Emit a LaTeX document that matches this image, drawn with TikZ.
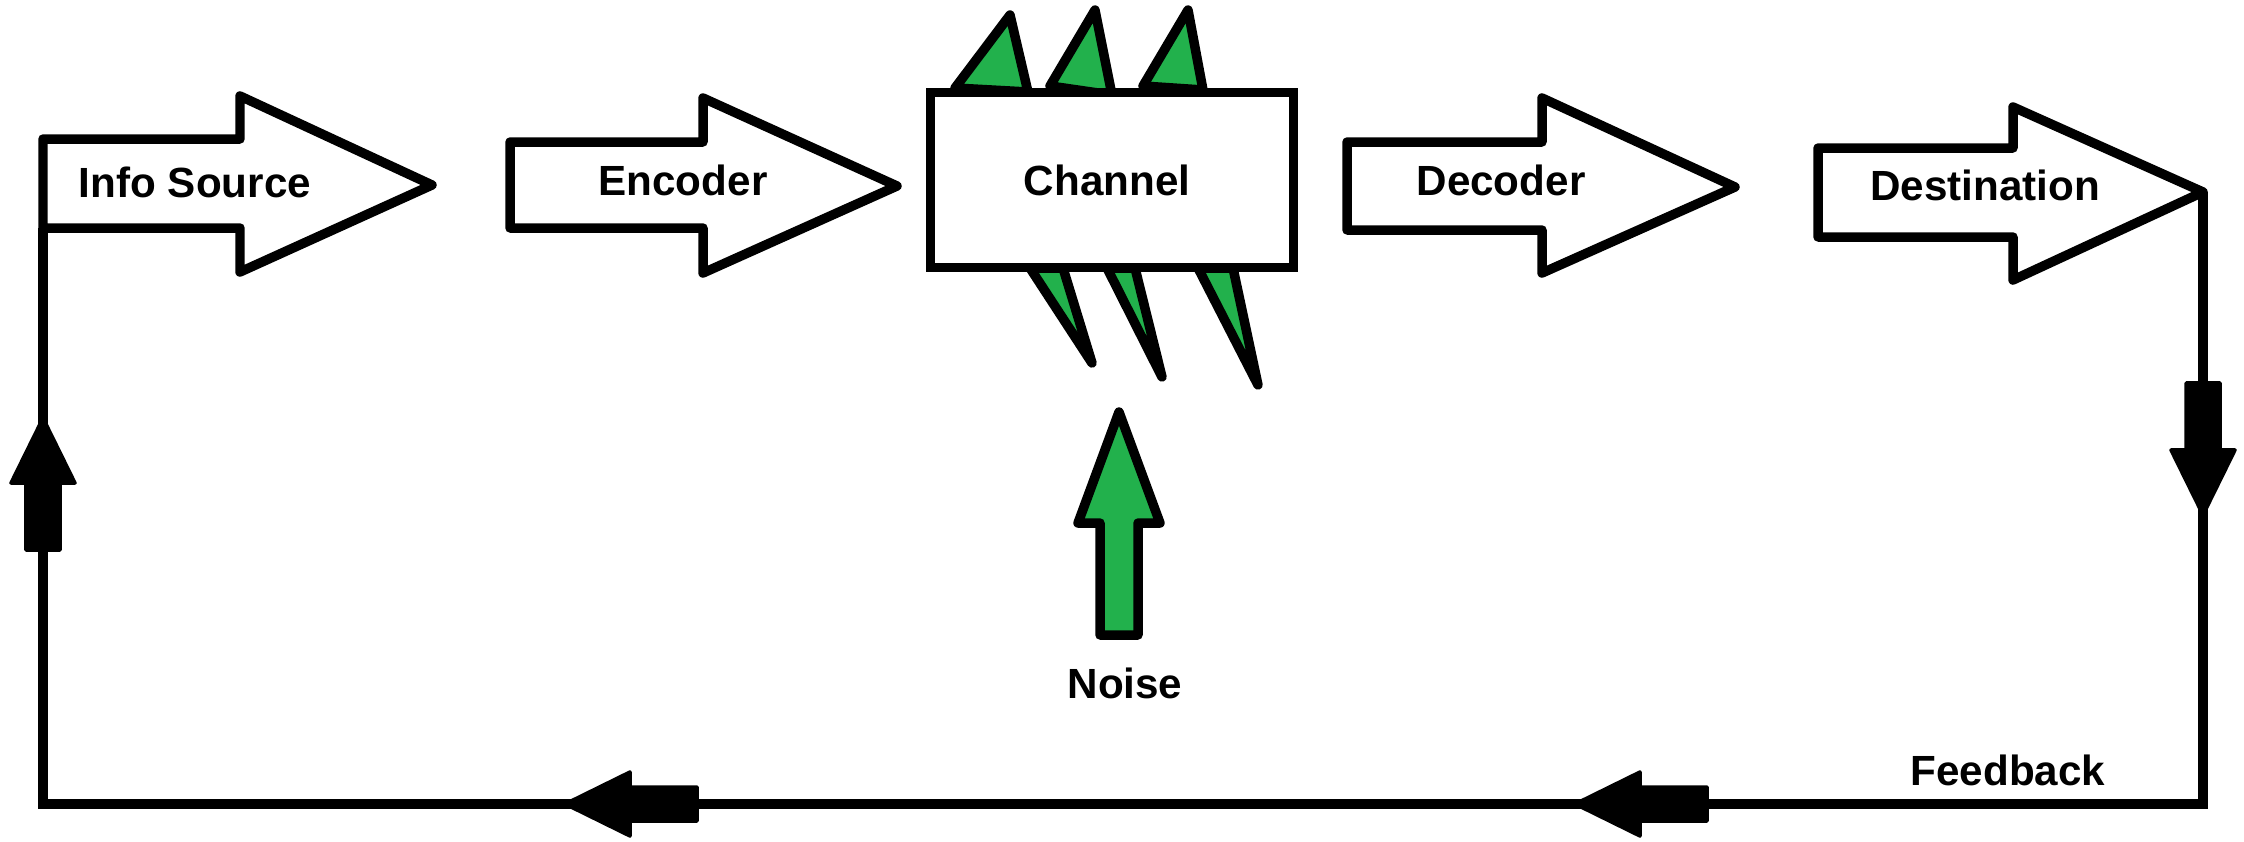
\documentclass[tikz,border=0pt]{standalone}
\usepackage{fontspec}
\setmainfont{Liberation Sans}
\usepackage{xcolor}
\usetikzlibrary{positioning,calc}

\definecolor{noisegreen}{RGB}{34,177,76}

\begin{document}
\begin{tikzpicture}[
  x=0.01cm, y=-0.01cm,
  line width=2.7pt, line join=round,
  blocktext/.style={font=\fontsize{12}{14}\selectfont\bfseries, inner sep=0pt},
  blockarrow/.style={draw, fill=white},
  spike/.style={draw, fill=noisegreen},
  chanbox/.style={draw, fill=white, line join=miter, minimum width=3.63cm, minimum height=1.75cm, blocktext},
  loopline/.style={draw, line join=miter},
  fbarrow/.pic={\fill[draw, line width=1pt] (0,0) -- (-65,32) -- (-65,17) -- (-132,17) -- (-132,-17) -- (-65,-17) -- (-65,-32) -- cycle;}
]
  \useasboundingbox (0,0) rectangle (2244,842);

  % Block arrows
  \draw[blockarrow] (43,139) -- (240,139) -- (240,96) -- (432,185) -- (240,272) -- (240,228) -- (43,228) coordinate (srcfoot) -- cycle;
  \node[blocktext] (src) at (195,182) {Info Source};

  \draw[blockarrow] (510,142) -- (703,142) -- (703,98) -- (897,186) -- (703,273) -- (703,228) -- (510,228) -- cycle;
  \node[blocktext] (enc) at (683,180) {Encoder};

  \draw[blockarrow] (1347,142) -- (1542,142) -- (1542,98) -- (1735,187) -- (1542,273) -- (1542,230) -- (1347,230) -- cycle;
  \node[blocktext] (dec) at (1501,180) {Decoder};

  \draw[blockarrow] (1818,148) -- (2013,148) -- (2013,107) -- (2203,192) coordinate (dsttip) -- (2013,280) -- (2013,237) -- (1818,237) -- cycle;
  \node[blocktext] (dst) at (1985,185) {Destination};

  % Noise spikes
  \draw[spike] (955,88) -- (1010,15) -- (1028,92) -- cycle;
  \draw[spike] (1050,86) -- (1095,10) -- (1112,95) -- cycle;
  \draw[spike] (1143,86) -- (1188,10) -- (1203,90) -- cycle;
  \draw[spike] (1030,268) -- (1092,363) -- (1063,268) -- cycle;
  \draw[spike] (1107,268) -- (1162,377) -- (1135,268) -- cycle;
  \draw[spike] (1198,268) -- (1258,385) -- (1233,268) -- cycle;

  % Channel
  \node[chanbox] (chan) at (1112,180) {\hspace*{-2.8pt}Channel};

  % Noise
  \draw[spike] (1100,635) -- (1100,523) -- (1078,523) -- (1119,412) -- (1160,523) -- (1138,523) -- (1138,635) -- cycle;
  \node[blocktext] (noise) at (1125,683) {Noise};

  % Feedback loop
  \coordinate (rcorner) at (2203,804);
  \coordinate (lcorner) at (43,804);
  \draw[loopline] (dsttip) -- (rcorner) -- (lcorner) -- (srcfoot);
  \node[blocktext] (fb) at (2008,770) {Feedback};

  \pic[rotate=-90] at (2203,515) {fbarrow};
  \pic[rotate=180] at (1575,804) {fbarrow};
  \pic[rotate=180] at (565,804) {fbarrow};
  \pic[rotate=90] at (43,418) {fbarrow};
\end{tikzpicture}
\end{document}
